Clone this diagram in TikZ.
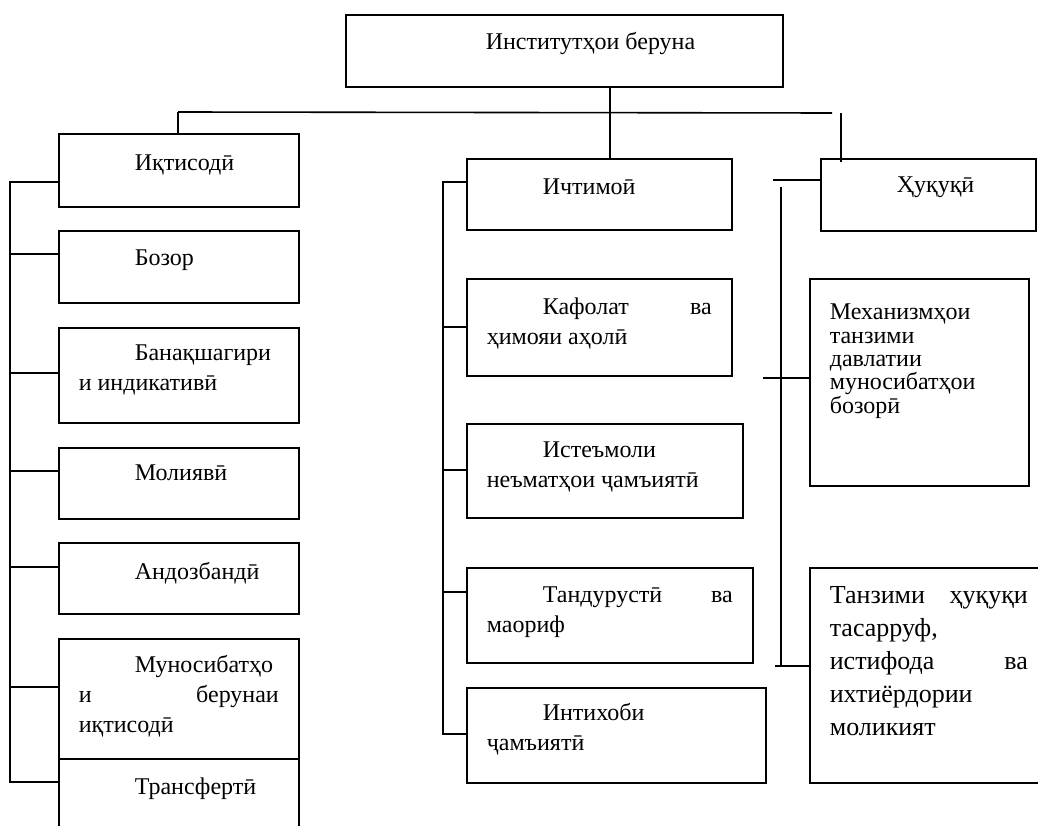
\documentclass[tikz,border=0pt]{standalone}
\usepackage{fontspec}
\setmainfont{Liberation Serif}
\usepackage{tikz}
\usetikzlibrary{calc}

\newcommand{\boxtext}[4][35pt]{\parbox[t][#3][t]{#2}{\rule{0pt}{#1}#4}}

\begin{document}
\begin{tikzpicture}[x = 1pt, y = -1pt, line width = 1.6pt,
    box/.style = {draw, rectangle, anchor = north west, inner xsep = 20pt, inner ysep = 0pt,
        font = \fontsize{24}{30}\selectfont}]
\useasboundingbox (0,0) rectangle (1038,826);
\clip (0,0) rectangle (1038,826);
\draw (345,14) node[box](a0){\boxtext{397pt}{72pt}{\hspace*{120pt}Институтҳои~беруна}}
    (58,133) node[box](a1){\boxtext[37pt]{200pt}{73pt}{\hspace*{56pt}Иқтисодӣ}}
    (58,230) node[box](a2){\boxtext{200pt}{72pt}{\hspace*{56pt}Бозор}}
    (58,327) node[box](a3){\boxtext[33pt]{200pt}{95pt}{\hspace*{56pt}Банақшагири\\и~индикативӣ}}
    (58,447) node[box](a4){\boxtext[33pt]{200pt}{71pt}{\hspace*{56pt}Молиявӣ}}
    (58,542) node[box](a5){\boxtext[37pt]{200pt}{71pt}{\hspace*{56pt}Андозбандӣ}}
    (58,638) node[box](a6){\boxtext[34pt]{200pt}{120pt}{\hspace*{56pt}Муносибатҳо\\и\nobreak\hfill берунаи\\иқтисодӣ}}
    (58,758) node[box](a7){\boxtext[36pt]{200pt}{80pt}{\hspace*{56pt}Трансфертӣ}};
\draw (466,158) node[box](b1){\boxtext[36pt]{225pt}{71pt}{\hspace*{56pt}Ичтимоӣ}}
    (466,278) node[box](b2){\boxtext[36pt]{225pt}{97pt}{\hspace*{56pt}Кафолат\nobreak\hfill ва\\ҳимояи~аҳолӣ}}
    (466,423) node[box](b3){\boxtext[34pt]{236pt}{94pt}{\hspace*{56pt}Истеъмоли\\неъматҳои~ҷамъиятӣ}}
    (466,567) node[box](b4){\boxtext{246pt}{95pt}{\hspace*{56pt}Тандурустӣ\nobreak\hfill ва\\маориф}}
    (466,687) node[box](b5){\boxtext[33pt]{259pt}{95pt}{\hspace*{56pt}Интихоби\\ҷамъиятӣ}};
\draw (820,158) node[box](c1){\boxtext[34pt]{175pt}{72pt}{\hspace*{56pt}Ҳуқуқӣ}}
    (809,278) node[box, font = \fontsize{24}{23.3}\selectfont](c2){\boxtext[41pt]{179pt}{207pt}{Механизмҳои\\танзими\\давлатии\\муносибатҳои\\бозорӣ}}
    (809,567) node[box, font = \fontsize{26}{33}\selectfont](c3){\boxtext[36pt]{198pt}{215pt}{Танзими\nobreak\hfill ҳуқуқи\\тасарруф,\\истифода\nobreak\hfill ва\\ихтиёрдории\\моликият}};
% bus points
\coordinate (v0) at (610,0);
\coordinate (h1) at (178,112);
\coordinate (h2) at (832,113);
\coordinate (h3) at (841,113);
\coordinate (l1) at (10,182);
\coordinate (l2) at (10,254);
\coordinate (l3) at (10,373);
\coordinate (l4) at (10,471);
\coordinate (l5) at (10,567);
\coordinate (l6) at (10,687);
\coordinate (l7) at (10,782);
\coordinate (m1) at (443,182);
\coordinate (m2) at (443,327);
\coordinate (m3) at (443,470);
\coordinate (m4) at (443,592);
\coordinate (m5) at (443,734);
\coordinate (r0) at (773,180);
\coordinate (r1) at (781,187);
\coordinate (r2) at (763,378);
\coordinate (r3) at (775,666);
\coordinate (r4) at (781,666);
\draw [-] (a0.south -| v0) -- (b1.north -| v0);
\draw [-] (h1) -- (h2);
\draw [-] (h1) -- (a1.north -| h1);
\draw [-] (h3) -- ($(c1.north -| h3)+(0,4)$);
\draw [-] (a1.west |- l1) -- (l1) -- (l7) -- (a7.west |- l7);
\draw [-] (l2) -- (a2.west |- l2);
\draw [-] (l3) -- (a3.west |- l3);
\draw [-] (l4) -- (a4.west |- l4);
\draw [-] (l5) -- (a5.west |- l5);
\draw [-] (l6) -- (a6.west |- l6);
\draw [-] (b1.west |- m1) -- (m1) -- (m5) -- (b5.west |- m5);
\draw [-] (m2) -- (b2.west |- m2);
\draw [-] (m3) -- (b3.west |- m3);
\draw [-] (m4) -- (b4.west |- m4);
\draw [-] (r0) -- (c1.west |- r0);
\draw [-] (r1) -- (r4);
\draw [-] (r2) -- (c2.west |- r2);
\draw [-] (r3) -- (c3.west |- r3);
\end{tikzpicture}
\end{document}
